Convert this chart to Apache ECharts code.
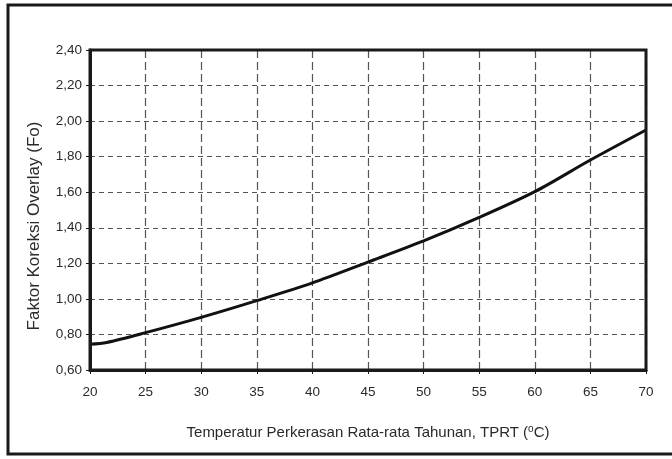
<!DOCTYPE html>
<html>
<head>
<meta charset="utf-8">
<script src="https://cdn.jsdelivr.net/npm/echarts@6/dist/echarts.min.js"></script>
<style>html,body{margin:0;padding:0;background:#fff}#c{width:672px;height:459px}</style>
</head>
<body>
<div id="c"></div>
<script>
const temps = [20, 21.5, 25, 30, 35, 40, 45, 50, 55, 60, 65, 70];
const fo = [0.745, 0.755, 0.81, 0.896, 0.99, 1.09, 1.207, 1.326, 1.458, 1.603, 1.781, 1.95];
const xTicks = [20, 25, 30, 35, 40, 45, 50, 55, 60, 65, 70];
const yTicks = [0.6, 0.8, 1.0, 1.2, 1.4, 1.6, 1.8, 2.0, 2.2, 2.4];

const chart = echarts.init(document.getElementById('c'));
const font = 'Liberation Sans, Arial, sans-serif';
chart.setOption({
  animation: false,
  backgroundColor: '#fff',
  graphic: [{
    type: 'rect', shape: {x: 8, y: 5, width: 720, height: 449},
    style: {fill: 'none', stroke: '#1a1a1a', lineWidth: 3}, z: 0
  }],
  grid: {left: 90, right: 26, top: 50, bottom: 89, show: true, borderColor: '#1a1a1a', borderWidth: 3, z: 5},
  xAxis: {
    type: 'value', min: 20, max: 70, interval: 5,
    name: 'Temperatur Perkerasan Rata-rata Tahunan, TPRT ({s|o}C)',
    nameLocation: 'middle', nameGap: 54,
    nameTextStyle: {fontFamily: font, fontSize: 15, color: '#2a2a2a',
      rich: {s: {fontFamily: font, fontSize: 10, color: '#2a2a2a', verticalAlign: 'top', padding: [0, 0, 8, 0]}}},
    axisLine: {show: true, lineStyle: {color: '#1a1a1a', width: 3}},
    axisTick: {show: true, length: 4, lineStyle: {color: '#1a1a1a', width: 1}},
    axisLabel: {fontFamily: font, fontSize: 13.5, color: '#2a2a2a', margin: 15,
      formatter: v => xTicks.includes(v) ? String(v) : ''},
    splitLine: {show: true, lineStyle: {color: '#555', type: [8, 4], width: 1.2}}
  },
  yAxis: {
    type: 'value', min: 0.6, max: 2.4, interval: 0.2,
    name: 'Faktor Koreksi Overlay (Fo)', nameLocation: 'middle', nameGap: 47,
    nameTextStyle: {fontFamily: font, fontSize: 17, color: '#2a2a2a', padding: [0, 32, 0, 0]},
    axisLine: {show: true, lineStyle: {color: '#1a1a1a', width: 3}},
    axisTick: {show: true, length: 4, lineStyle: {color: '#1a1a1a', width: 1}},
    axisLabel: {fontFamily: font, fontSize: 13.5, color: '#2a2a2a', margin: 8,
      formatter: v => {
        const t = yTicks.find(y => Math.abs(y - v) < 1e-6);
        return t === undefined ? '' : t.toFixed(2).replace('.', ',');
      }},
    splitLine: {show: true, lineStyle: {color: '#555', type: [5, 4], width: 1.2}}
  },
  series: [{
    type: 'line', data: temps.map((t, i) => [t, fo[i]]), smooth: 0.3,
    symbol: 'none', lineStyle: {color: '#111', width: 3}, z: 3
  }]
});
</script>
</body>
</html>
